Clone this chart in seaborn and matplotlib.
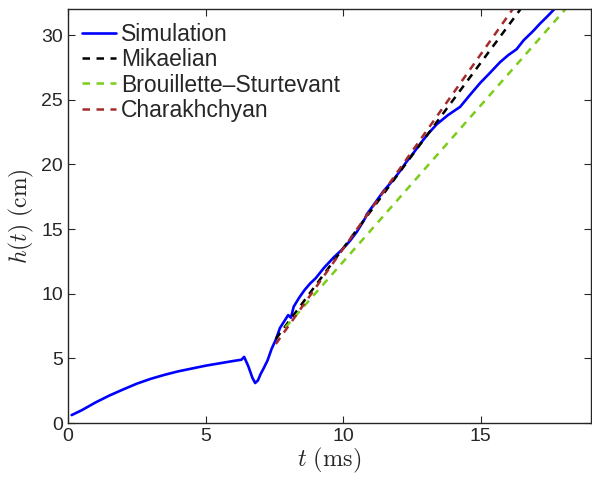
import matplotlib
matplotlib.use("Agg")
import matplotlib.pyplot as plt
import seaborn as sns

# Simulation data
sim_t = [0.13, 0.5, 1.0, 1.5, 2.0, 2.5, 3.0, 3.5, 4.0, 4.5, 5.0, 5.5, 6.0, 6.3, 6.4,
         6.55, 6.7, 6.8, 6.9, 7.0, 7.1, 7.25, 7.4, 7.55, 7.7, 7.85, 8.0, 8.1,
         8.2, 8.4, 8.6, 8.8, 9.0, 9.3, 9.65, 10.0, 10.25, 10.5, 10.8, 10.86,
         11.1, 11.47, 11.8, 12.07, 12.3, 12.56, 12.8, 13.1, 13.4, 13.8, 14.25,
         14.6, 14.98, 15.3, 15.7, 16.0, 16.3, 16.56, 16.9, 17.16, 17.4, 17.65, 17.9]
sim_h = [0.62, 1.0, 1.6, 2.13, 2.6, 3.05, 3.42, 3.73, 4.0, 4.22, 4.44, 4.62, 4.8, 4.9, 5.12,
         4.4, 3.5, 3.1, 3.3, 3.8, 4.2, 4.85, 5.75, 6.45, 7.35, 7.85, 8.35, 8.15,
         9.0, 9.7, 10.3, 10.8, 11.2, 12.0, 12.8, 13.5, 14.1, 14.8, 15.85, 16.15,
         16.85, 17.95, 18.75, 19.5, 20.2, 20.9, 21.6, 22.4, 23.1, 23.8, 24.45,
         25.35, 26.3, 27.0, 27.9, 28.45, 28.9, 29.6, 30.3, 30.9, 31.4, 31.95, 32.6]

# Model predictions
mik_t = [7.55, 16.55]
mik_h = [6.5, 32.3]
bs_t = [7.9, 18.2]
bs_h = [7.4, 32.3]
char_t = [7.55, 16.26]
char_h = [6.12, 32.3]

labels = ["Simulation", "Mikaelian", "Brouillette\u2013Sturtevant", "Charakhchyan"]
x_ticks = [0, 5, 10, 15]
y_ticks = [0, 5, 10, 15, 20, 25, 30]

sns.set_style("ticks")
plt.rcParams["font.family"] = ["Liberation Sans", "DejaVu Sans"]
plt.rcParams["mathtext.fontset"] = "cm"

fig = plt.figure(figsize=(5.92, 4.83), dpi=100)
ax = fig.add_axes([0.115, 0.124, 0.883, 0.857])

dash = (0, (3.0, 2.6))
sns.lineplot(x=sim_t, y=sim_h, ax=ax, color=(0, 0, 1), lw=1.9, label=labels[0],
             estimator=None, sort=False)
sns.lineplot(x=mik_t, y=mik_h, ax=ax, color="black", lw=1.8, ls=dash,
             label=labels[1], estimator=None)
sns.lineplot(x=bs_t, y=bs_h, ax=ax, color="#7ccc1a", lw=1.8, ls=dash,
             label=labels[2], estimator=None)
sns.lineplot(x=char_t, y=char_h, ax=ax, color="#a52a2a", lw=1.8, ls=dash,
             label=labels[3], estimator=None)

ax.set_xlim(0, 19)
ax.set_ylim(0, 32)
ax.set_xticks(x_ticks)
ax.set_yticks(y_ticks)
ax.tick_params(direction="in", top=True, right=True, labelsize=14, length=5, width=0.8)
for s in ax.spines.values():
    s.set_linewidth(1.0)
    s.set_visible(True)

ax.set_xlabel(r"$t\ \mathrm{(ms)}$", fontsize=17.5, labelpad=1)
ax.set_ylabel(r"$h(t)\ \mathrm{(cm)}$", fontsize=17, labelpad=4)

leg = ax.legend(loc="upper left", frameon=False, fontsize=16.5, handlelength=1.5,
                handletextpad=0.2, borderaxespad=0.25, labelspacing=0.1,
                borderpad=0.35)

fig.savefig("out.png", dpi=100)
